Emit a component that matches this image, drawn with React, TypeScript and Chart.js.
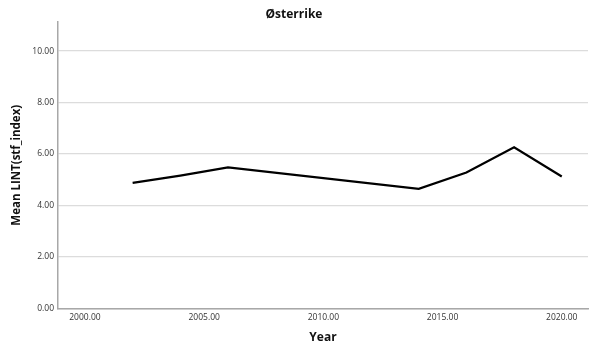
import React, { useEffect, useRef } from "react";
import { Chart, registerables } from "chart.js";

Chart.register(...registerables);

const titleText = "Østerrike";
const xAxisTitle = "Year";
const yAxisTitle = "Mean LINT(stf_index)";
const years = [2002, 2004, 2006, 2014, 2016, 2018, 2020];
const meanValues = [4.88, 5.16, 5.48, 4.65, 5.28, 6.26, 5.13];
const yTickStep = 2;
const xTickStep = 5;

export default function App() {
  const ref = useRef<HTMLCanvasElement | null>(null);
  useEffect(() => {
    if (!ref.current) return;
    const font = "'Open Sans', 'DejaVu Sans', sans-serif";
    const chart = new Chart(ref.current, {
      type: "line",
      data: {
        datasets: [
          {
            data: years.map((y, i) => ({ x: y, y: meanValues[i] })),
            borderColor: "#000000",
            borderWidth: 2.2,
            pointRadius: 0,
            fill: false,
            tension: 0,
          },
        ],
      },
      options: {
        animation: false,
        responsive: false,
        maintainAspectRatio: false,
        layout: { padding: { left: 0, right: 1, top: 0, bottom: 0 } },
        plugins: {
          legend: { display: false },
          tooltip: { enabled: false },
          title: {
            display: true,
            text: titleText,
            color: "#111",
            font: { family: font, size: 12, weight: "bold" },
            padding: { top: 7, bottom: 0.6 },
          },
        },
        scales: {
          x: {
            type: "linear",
            min: 1998.87,
            max: 2021.1,
            afterFit: (s: any) => {
              s.height = 42.5;
            },
            ticks: {
              stepSize: xTickStep,
              includeBounds: false,
              autoSkip: false,
              maxRotation: 0,
              padding: 4,
              color: "#333",
              font: { family: font, size: 8.5 },
              callback: (v: any) => Number(v).toFixed(2),
            },
            grid: { display: false, drawTicks: false },
            border: { display: true, color: "#a8a8a8", width: 1.5 },
            title: {
              display: true,
              text: xAxisTitle,
              color: "#111",
              font: { family: font, size: 12, weight: "bold" },
              padding: { top: 6, bottom: 6 },
            },
          },
          y: {
            min: 0,
            max: 11.13,
            afterFit: (s: any) => {
              s.width = 58;
            },
            ticks: {
              stepSize: yTickStep,
              includeBounds: false,
              padding: 4,
              color: "#333",
              font: { family: font, size: 8.5 },
              callback: (v: any) => Number(v).toFixed(2),
            },
            grid: { color: "#dcdcdc", lineWidth: 1.2, drawTicks: false },
            border: { display: true, color: "#a8a8a8", width: 1.5 },
            title: {
              display: true,
              text: yAxisTitle,
              color: "#111",
              font: { family: font, size: 11.5, weight: "bold" },
              padding: { top: 10, bottom: 0 },
            },
          },
        },
      },
    });
    return () => chart.destroy();
  }, []);
  return (
    <div style={{ position: "absolute", left: 0, top: 0, width: 589, height: 351, background: "#fff" }}>
      <canvas ref={ref} width={589} height={351} style={{ width: 589, height: 351 }} />
    </div>
  );
}
